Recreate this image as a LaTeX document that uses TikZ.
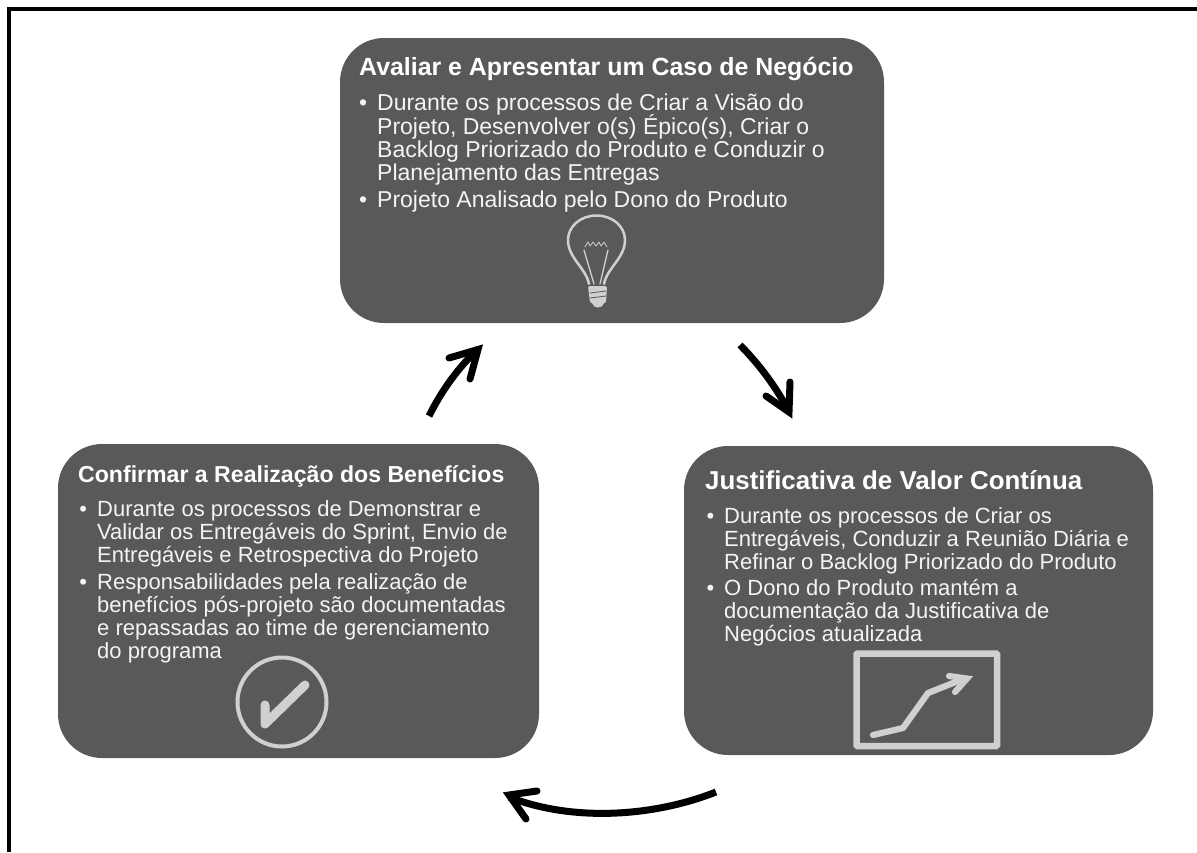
\documentclass[tikz,border=0pt]{standalone}
\usepackage{fontspec}
\setmainfont{Liberation Sans}
\definecolor{boxgray}{HTML}{595959}
\definecolor{icon}{HTML}{D0D0D0}
\definecolor{ink}{HTML}{F4F4F4}
\newcommand{\tightlines}{\setlength{\lineskiplimit}{-100pt}}
\tikzset{
  x=1pt,y=-1pt,
  panel/.style={fill=boxgray,draw=none,rounded corners=44pt},
  head/.style={anchor=base west,text=white,font=\bfseries,inner sep=0pt},
  lines/.style={anchor=north west,text=ink,align=left,inner sep=0pt},
  flow/.style={line width=7pt,line cap=butt},
  tip/.style={line width=7pt,line cap=round,line join=miter},
  ic/.style={draw=icon,line width=2pt,line cap=round,line join=round},
}
\newcommand{\itm}{\llap{•\hspace{10pt}}}
\begin{document}
\begin{tikzpicture}
\useasboundingbox (0,0) rectangle (1197,852);
\fill[white] (0,0) rectangle (1197,852);
\draw[line width=4pt] (9,852) -- (9,9) -- (1197,9);
% panels
\path[panel] (340,38) rectangle (884,323);
\path[panel] (58,444) rectangle (539,758);
\path[panel] (684,446) rectangle (1153,755);
% heads
\node[head,font=\fontsize{24.9}{28}\selectfont\bfseries] (h1) at (359,75) {Avaliar e Apresentar um Caso de Negócio};
\node[head,font=\fontsize{23.1}{26}\selectfont\bfseries] (h2) at (78,482) {Confirmar a Realização dos Benefícios};
\node[head,font=\fontsize{25.9}{28}\selectfont\bfseries] (h3) at (705,489) {Justificativa de Valor Contínua};
% text
\node[lines,font=\fontsize{23}{23.3}\selectfont\tightlines] (t1) at (377,94) {\itm Durante os processos de Criar a Visão do\\Projeto, Desenvolver o(s) Épico(s), Criar o\\Backlog Priorizado do Produto e Conduzir o\\Planejamento das Entregas\\[3pt]\itm Projeto Analisado pelo Dono do Produto};
\node[lines,font=\fontsize{22}{23}\selectfont\tightlines] (t2) at (97,500) {\itm Durante os processos de Demonstrar e\\Validar os Entregáveis do Sprint, Envio de\\Entregáveis e Retrospectiva do Projeto\\[4pt]\itm Responsabilidades pela realização de\\benefícios pós-projeto são documentadas\\e repassadas ao time de gerenciamento\\do programa};
\node[lines,font=\fontsize{22}{22.9}\selectfont\tightlines] (t3) at (724,507.5) {\itm Durante os processos de Criar os\\Entregáveis, Conduzir a Reunião Diária e\\Refinar o Backlog Priorizado do Produto\\[3.5pt]\itm O Dono do Produto mantém a\\documentação da Justificativa de\\Negócios atualizada};
% bulb
\draw[ic,line width=2.5pt] (589,284) .. controls (586,268) and (568,258) .. (568,240) .. controls (568,226) and (581,215.5) .. (596.5,215.5) .. controls (612,215.5) and (625,226) .. (625,240) .. controls (625,258) and (607,268) .. (604,284);
\draw[ic,line width=1.3pt] (584,250) -- (594,284);
\draw[ic,line width=1.3pt] (608,250) -- (600,284);
\draw[ic,line width=.8pt] (585,247) -- (588,242) -- (590,246) -- (593,242) -- (596,246) -- (599,242) -- (601,246) -- (604,242) -- (607,247);
\fill[icon,rounded corners=1.5pt] (588,286) -- (607,286) -- (606,303) -- (590,303) -- cycle;
\fill[icon] (592,303) -- (604,303) .. controls (603,309) and (593,309) .. (592,303) -- cycle;
\draw[boxgray,line width=.8pt] (590,293) -- (606,291) (590,298) -- (606,296);
% check
\draw[icon,line width=4pt] (282,702) circle (44.5);
\draw[icon,line width=9pt,line cap=round,line join=round] (305,685) -- (265,724) -- (265,705);
% chart
\draw[icon,line width=6.5pt,rounded corners=1pt] (856.5,653.5) rectangle (997,746);
\draw[icon,line width=6.2pt,line cap=round,line join=round] (873,735) -- (903,728) -- (928,693) -- (958,681);
\draw[icon,line width=6.2pt,line cap=round,line join=miter] (949,676) -- (967,678.5) -- (955,692);
% arrows
\coordinate (a1s) at (429,416);
\coordinate (a1e) at (478,349);
\draw[flow] (a1s) .. controls (442,390) and (458,368) .. (a1e);
\draw[tip] (449,358) -- (478,349.5) -- (470,379);
\coordinate (a2s) at (740,345);
\coordinate (a2e) at (789,412);
\draw[flow] (a2s) .. controls (760,365) and (778,390) .. (a2e);
\draw[tip] (790,382) -- (789,412) -- (766,396);
\coordinate (a3s) at (716,792);
\coordinate (a3e) at (509,797);
\draw[flow] (a3s) .. controls (650,818) and (570,821) .. (a3e);
\draw[tip] (537,791) -- (509,795) -- (526,819);
\end{tikzpicture}
\end{document}
